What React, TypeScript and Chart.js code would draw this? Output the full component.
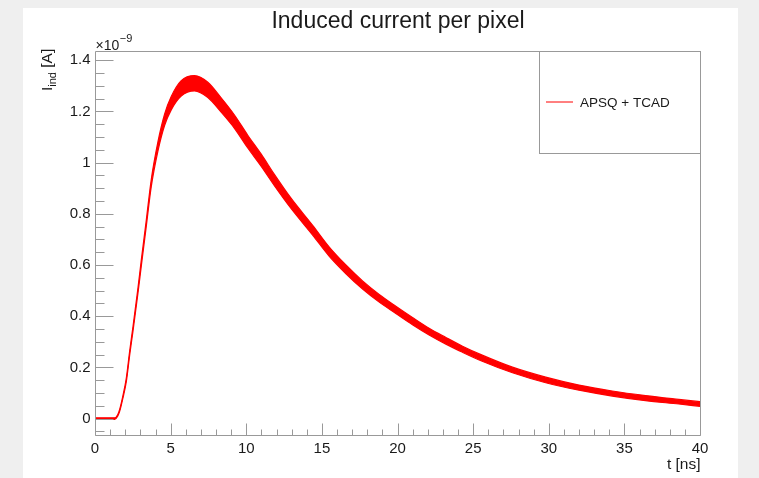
import React, { useEffect, useRef } from "react";
import { Chart, registerables } from "chart.js";

Chart.register(...registerables);

const TITLE = "Induced current per pixel";
const SERIES_LABEL = "APSQ + TCAD";
const X_TITLE = "t [ns]";
const Y_EXPONENT = "\u22129";

// time axis (ns)
const timeNs = [
  0, 1.3, 1.5, 1.64, 1.85, 2.07, 2.29, 2.51, 2.84, 3.06, 3.39, 3.72, 4.16, 4.6, 5.04, 5.7, 6.58, 7.46, 8.34,
  9.22, 10.1, 10.98, 11.86, 12.96, 14.39, 15.49, 16.59, 17.69, 18.79, 19.89, 20.99, 22.09, 23.2, 24.3, 25.6,
  27.6, 29.8, 32.0, 34.2, 36.4, 38.6, 40,
];
// upper edge of the noisy trace (units of 1e-9 A)
const currentUpper = [
  0.003, 0.003, 0.015, 0.038, 0.091, 0.158, 0.263, 0.359, 0.51, 0.619, 0.775, 0.934, 1.081, 1.189, 1.258,
  1.32, 1.34, 1.314, 1.253, 1.186, 1.107, 1.034, 0.954, 0.861, 0.755, 0.67, 0.6, 0.538, 0.485, 0.439, 0.395,
  0.353, 0.317, 0.283, 0.248, 0.201, 0.162, 0.131, 0.108, 0.09, 0.075, 0.066,
];
// lower edge of the noisy trace (units of 1e-9 A)
const currentLower = [
  -0.003, -0.003, 0.009, 0.03, 0.081, 0.144, 0.247, 0.341, 0.49, 0.595, 0.751, 0.906, 1.045, 1.145, 1.206,
  1.26, 1.28, 1.254, 1.197, 1.134, 1.057, 0.986, 0.91, 0.821, 0.717, 0.634, 0.566, 0.506, 0.455, 0.411,
  0.367, 0.327, 0.291, 0.259, 0.224, 0.179, 0.14, 0.111, 0.088, 0.07, 0.057, 0.048,
];

const xMajorTicks = [0, 5, 10, 15, 20, 25, 30, 35, 40];
const xMinorStep = 1;
const yMajorTicks = [0, 0.2, 0.4, 0.6, 0.8, 1.0, 1.2, 1.4];
const yTickLabels = ["0", "0.2", "0.4", "0.6", "0.8", "1", "1.2", "1.4"];
const yMinorStep = 0.05;

const FONT = '"Liberation Sans", Arial, Helvetica, sans-serif';
const AXIS_GREY = "#999999";

const rootStyle = {
  id: "rootStyle",
  beforeDraw(chart: any) {
    const { ctx, width, height } = chart;
    ctx.save();
    ctx.fillStyle = "#efefef";
    ctx.fillRect(0, 0, width, height);
    ctx.fillStyle = "#ffffff";
    ctx.fillRect(23, 8, 715, height - 8);
    ctx.restore();
  },
  afterDraw(chart: any) {
    const { ctx, chartArea } = chart;
    const xs = chart.scales.x;
    const ys = chart.scales.y;
    const L = Math.round(chartArea.left) + 0.5;
    const R = Math.round(chartArea.right) + 0.5;
    const T = Math.round(chartArea.top) + 0.5;
    const B = Math.round(chartArea.bottom) + 0.5;
    ctx.save();
    ctx.strokeStyle = AXIS_GREY;
    ctx.lineWidth = 1;
    // frame
    ctx.beginPath();
    ctx.rect(L, T, R - L, B - T);
    ctx.stroke();

    // x ticks
    ctx.beginPath();
    for (let v = xs.min; v <= xs.max + 1e-9; v += xMinorStep) {
      const major = xMajorTicks.some((m) => Math.abs(m - v) < 1e-6);
      const px = Math.round(xs.getPixelForValue(v)) + 0.5;
      const len = major ? 12 : 6;
      ctx.moveTo(px, B);
      ctx.lineTo(px, B - len);
    }
    // y ticks
    const start = Math.ceil(ys.min / yMinorStep - 1e-6) * yMinorStep;
    for (let v = start; v <= ys.max + 1e-9; v += yMinorStep) {
      const major = yMajorTicks.some((m) => Math.abs(m - v) < 1e-6);
      const py = Math.round(ys.getPixelForValue(v)) + 0.5;
      const len = major ? 18 : 9;
      ctx.moveTo(L, py);
      ctx.lineTo(L + len, py);
    }
    ctx.stroke();

    // tick labels
    ctx.fillStyle = "#1a1a1a";
    ctx.font = `15px ${FONT}`;
    ctx.textAlign = "center";
    ctx.textBaseline = "top";
    xMajorTicks.forEach((v) => {
      ctx.fillText(String(v), xs.getPixelForValue(v), B + 6);
    });
    ctx.textAlign = "right";
    ctx.textBaseline = "middle";
    yMajorTicks.forEach((v, i) => {
      ctx.fillText(yTickLabels[i], L - 5, ys.getPixelForValue(v));
    });

    // x title
    ctx.font = `15.5px ${FONT}`;
    ctx.textAlign = "right";
    ctx.textBaseline = "alphabetic";
    ctx.fillText(X_TITLE, R, 469);

    // exponent
    ctx.textAlign = "left";
    ctx.font = `14px ${FONT}`;
    ctx.fillText("\u00d710", L, 50);
    const w10 = ctx.measureText("\u00d710").width;
    ctx.font = `11px ${FONT}`;
    ctx.fillText(Y_EXPONENT, L + w10 + 0.5, 42);

    // y title (rotated)
    ctx.save();
    ctx.translate(52, 91);
    ctx.rotate(-Math.PI / 2);
    ctx.textAlign = "left";
    ctx.textBaseline = "alphabetic";
    ctx.font = `15.5px ${FONT}`;
    ctx.fillText("I", 0, 0);
    let w = ctx.measureText("I").width;
    ctx.font = `11px ${FONT}`;
    ctx.fillText("ind", w, 3.5);
    w += ctx.measureText("ind").width;
    ctx.font = `15.5px ${FONT}`;
    ctx.fillText(" [A]", w, 0);
    ctx.restore();

    // title
    ctx.font = `23px ${FONT}`;
    ctx.textAlign = "center";
    ctx.textBaseline = "alphabetic";
    ctx.fillText(TITLE, 398, 28);

    // legend
    ctx.fillStyle = "#ffffff";
    ctx.fillRect(539.5, 51.5, 161, 102);
    ctx.strokeStyle = AXIS_GREY;
    ctx.strokeRect(539.5, 51.5, 161, 102);
    ctx.strokeStyle = "#ff0000";
    ctx.beginPath();
    ctx.moveTo(546, 102);
    ctx.lineTo(573, 102);
    ctx.stroke();
    ctx.fillStyle = "#1a1a1a";
    ctx.font = `13.5px ${FONT}`;
    ctx.textAlign = "left";
    ctx.textBaseline = "middle";
    ctx.fillText(chart.data.datasets[0].label, 580, 103);
    ctx.restore();
  },
};

export default function App() {
  const canvasRef = useRef<HTMLCanvasElement | null>(null);

  useEffect(() => {
    const canvas = canvasRef.current;
    if (!canvas) return;
    const upper = timeNs.map((t, i) => ({ x: t, y: currentUpper[i] }));
    const lower = timeNs.map((t, i) => ({ x: t, y: currentLower[i] }));
    const chart = new Chart(canvas, {
      type: "line",
      data: {
        datasets: [
          {
            label: SERIES_LABEL,
            data: upper,
            borderColor: "#ff0000",
            backgroundColor: "#ff0000",
            borderWidth: 1.2,
            pointRadius: 0,
            fill: "+1",
            cubicInterpolationMode: "monotone",
          },
          {
            label: SERIES_LABEL + " (lower)",
            data: lower,
            borderColor: "#ff0000",
            backgroundColor: "#ff0000",
            borderWidth: 1.2,
            pointRadius: 0,
            fill: false,
            cubicInterpolationMode: "monotone",
          },
        ],
      },
      options: {
        animation: false,
        responsive: false,
        maintainAspectRatio: false,
        devicePixelRatio: 1,
        layout: { padding: { left: 95, right: 59, top: 51, bottom: 43 } },
        plugins: {
          legend: { display: false },
          tooltip: { enabled: false },
          title: { display: false },
        },
        scales: {
          x: { type: "linear", min: 0, max: 40, display: false },
          y: { type: "linear", min: -0.064, max: 1.436, display: false },
        },
      },
      plugins: [rootStyle],
    });
    return () => chart.destroy();
  }, []);

  return (
    <div style={{ position: "fixed", left: 0, top: 0, width: 759, height: 478 }}>
      <canvas ref={canvasRef} width={759} height={478} style={{ display: "block", width: 759, height: 478 }} />
    </div>
  );
}
